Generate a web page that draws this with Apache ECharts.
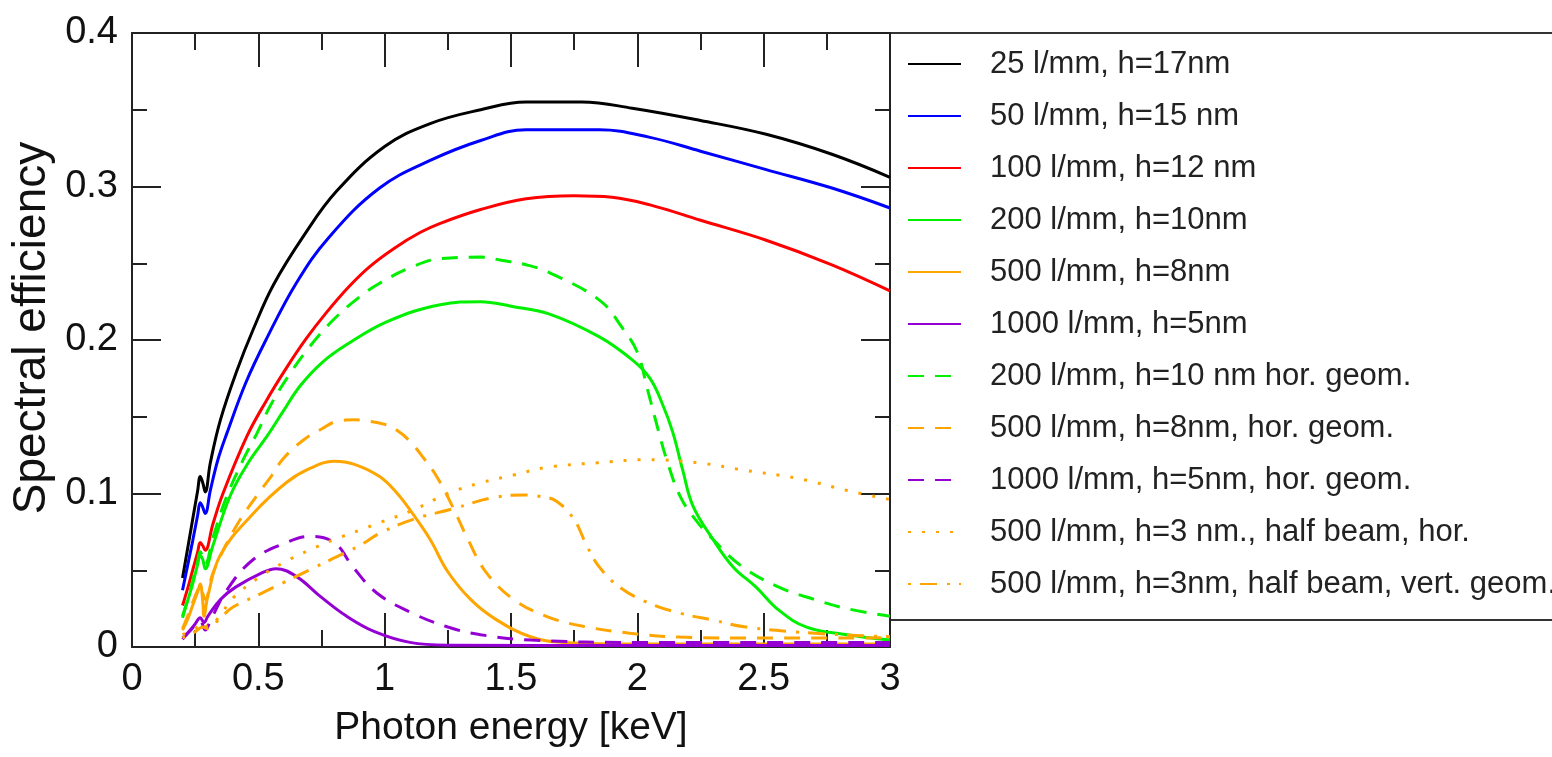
<!DOCTYPE html>
<html>
<head>
<meta charset="utf-8">
<script src="https://cdn.jsdelivr.net/npm/echarts@6/dist/echarts.min.js"></script>
<style>
html,body{margin:0;padding:0;background:#fff;}
#chart{width:1552px;height:757px;}
</style>
</head>
<body>
<div id="chart"></div>
<script>
// ---- data (energy keV, efficiency) ----
const xTicks = [0, 0.5, 1, 1.5, 2, 2.5, 3];
const yTicks = [0, 0.1, 0.2, 0.3, 0.4];

const names = [
  '25 l/mm, h=17nm',
  '50 l/mm, h=15 nm',
  '100 l/mm, h=12 nm',
  '200 l/mm, h=10nm',
  '500 l/mm, h=8nm',
  '1000 l/mm, h=5nm',
  '200 l/mm, h=10 nm hor. geom.',
  '500 l/mm, h=8nm, hor. geom.',
  '1000 l/mm, h=5nm, hor. geom.',
  '500 l/mm, h=3 nm., half beam, hor.',
  '500 l/mm, h=3nm, half beam, vert. geom.'
];

const g25 = [[0.2,0.045],[0.22,0.064],[0.24,0.083],[0.26,0.102],[0.27,0.111],[0.28,0.107],[0.29,0.101],[0.31,0.120],[0.35,0.148],[0.415,0.180],[0.48,0.207],[0.56,0.236],[0.68,0.268],[0.81,0.297],[1.0,0.326],[1.18,0.341],[1.38,0.350],[1.56,0.355],[1.78,0.355],[1.98,0.351],[2.25,0.343],[2.51,0.334],[2.77,0.321],[3.0,0.306]];
const g50 = [[0.2,0.037],[0.22,0.053],[0.24,0.069],[0.26,0.086],[0.27,0.094],[0.28,0.091],[0.29,0.087],[0.31,0.102],[0.34,0.122],[0.375,0.139],[0.45,0.172],[0.53,0.200],[0.65,0.237],[0.78,0.267],[0.98,0.299],[1.18,0.317],[1.38,0.330],[1.56,0.337],[1.85,0.337],[2.05,0.332],[2.25,0.323],[2.51,0.311],[2.77,0.299],[3.0,0.286]];
const g100 = [[0.2,0.027],[0.22,0.038],[0.24,0.050],[0.26,0.062],[0.27,0.068],[0.28,0.066],[0.29,0.063],[0.32,0.080],[0.36,0.100],[0.454,0.137],[0.53,0.160],[0.612,0.182],[0.69,0.201],[0.77,0.218],[0.86,0.235],[0.942,0.248],[1.04,0.260],[1.14,0.270],[1.22,0.276],[1.38,0.285],[1.56,0.292],[1.75,0.294],[1.9,0.293],[2.05,0.288],[2.25,0.278],[2.51,0.265],[2.77,0.249],[3.0,0.232]];
const g200 = [[0.2,0.019],[0.22,0.030],[0.24,0.041],[0.26,0.054],[0.27,0.060],[0.28,0.057],[0.29,0.051],[0.32,0.066],[0.39,0.099],[0.46,0.120],[0.533,0.137],[0.6,0.154],[0.665,0.170],[0.75,0.185],[0.85,0.197],[1.01,0.212],[1.22,0.223],[1.38,0.225],[1.5,0.222],[1.65,0.217],[1.85,0.202],[1.98,0.187],[2.05,0.175],[2.1,0.158],[2.14,0.140],[2.18,0.115],[2.22,0.092],[2.3,0.070],[2.38,0.052],[2.47,0.039],[2.56,0.024],[2.67,0.013],[2.83,0.008],[3.0,0.0045]];
const g500 = [[0.2,0.011],[0.22,0.018],[0.24,0.027],[0.26,0.036],[0.27,0.041],[0.28,0.030],[0.285,0.020],[0.3,0.033],[0.35,0.060],[0.48,0.087],[0.61,0.107],[0.7,0.116],[0.8,0.121],[0.88,0.119],[0.98,0.111],[1.05,0.100],[1.11,0.087],[1.18,0.070],[1.25,0.049],[1.34,0.031],[1.44,0.018],[1.58,0.0065],[1.71,0.003],[2.0,0.002],[3.0,0.002]];
const g1000 = [[0.2,0.005],[0.22,0.009],[0.25,0.015],[0.27,0.019],[0.285,0.016],[0.3,0.020],[0.35,0.031],[0.41,0.039],[0.51,0.048],[0.57,0.051],[0.65,0.046],[0.745,0.033],[0.85,0.020],[0.96,0.010],[1.1,0.003],[1.25,0.0012],[2.0,0.001],[3.0,0.001]];
const h200 = [[0.2,0.020],[0.22,0.031],[0.24,0.043],[0.26,0.056],[0.27,0.062],[0.28,0.059],[0.29,0.054],[0.32,0.071],[0.37,0.096],[0.44,0.122],[0.494,0.139],[0.55,0.158],[0.625,0.178],[0.7,0.195],[0.796,0.213],[0.9,0.228],[0.98,0.237],[1.1,0.247],[1.22,0.253],[1.38,0.254],[1.46,0.252],[1.56,0.249],[1.65,0.244],[1.85,0.226],[1.94,0.208],[2.0,0.192],[2.04,0.168],[2.08,0.143],[2.12,0.120],[2.17,0.098],[2.23,0.083],[2.3,0.070],[2.41,0.053],[2.56,0.039],[2.7,0.031],[2.83,0.025],[3.0,0.020]];
const h500 = [[0.2,0.012],[0.22,0.020],[0.24,0.029],[0.26,0.037],[0.27,0.040],[0.28,0.035],[0.29,0.031],[0.32,0.048],[0.41,0.078],[0.5,0.100],[0.55,0.111],[0.6,0.123],[0.68,0.135],[0.75,0.142],[0.81,0.147],[0.88,0.148],[0.94,0.147],[1.0,0.145],[1.05,0.141],[1.1,0.134],[1.15,0.124],[1.21,0.110],[1.27,0.091],[1.33,0.070],[1.4,0.049],[1.51,0.031],[1.64,0.020],[1.77,0.014],[1.97,0.009],[2.17,0.0065],[2.5,0.0058],[3.0,0.006]];
const h1000 = [[0.2,0.006],[0.22,0.009],[0.25,0.014],[0.27,0.017],[0.29,0.011],[0.31,0.017],[0.375,0.037],[0.48,0.057],[0.61,0.068],[0.7,0.072],[0.8,0.068],[0.875,0.052],[0.97,0.035],[1.11,0.022],[1.25,0.013],[1.38,0.008],[1.58,0.0045],[2.0,0.003],[3.0,0.003]];
const halfHor = [[0.2,0.008],[0.25,0.012],[0.28,0.016],[0.3,0.013],[0.35,0.021],[0.4,0.032],[0.5,0.045],[0.6,0.055],[0.7,0.063],[0.8,0.070],[0.9,0.076],[0.98,0.081],[1.11,0.089],[1.25,0.100],[1.38,0.107],[1.51,0.112],[1.64,0.117],[1.84,0.120],[2.04,0.122],[2.24,0.120],[2.43,0.115],[2.63,0.110],[2.83,0.102],[3.0,0.096]];
const halfVert = [[0.2,0.006],[0.25,0.010],[0.28,0.013],[0.3,0.012],[0.35,0.019],[0.4,0.026],[0.5,0.034],[0.6,0.042],[0.7,0.050],[0.8,0.058],[0.9,0.066],[0.98,0.074],[1.11,0.083],[1.27,0.090],[1.42,0.097],[1.55,0.099],[1.62,0.098],[1.68,0.095],[1.75,0.083],[1.8,0.066],[1.85,0.052],[1.93,0.039],[2.04,0.029],[2.17,0.022],[2.3,0.0175],[2.43,0.013],[2.63,0.0098],[2.83,0.0078],[3.0,0.0067]];

const seriesData = [g25, g50, g100, g200, g500, g1000, h200, h500, h1000, halfHor, halfVert];
const colors = ['#000000','#0000ff','#ff0000','#00f000','#ffa500','#9400d3','#00f000','#ffa500','#9400d3','#ffa500','#ffa500'];
const dashTypes = ['solid','solid','solid','solid','solid','solid',[16,11],[16,11],[16,11],[3,11],[3,9,17,10]];

const FONT = '"Liberation Sans", Arial, Helvetica, sans-serif';
const AX = '#222';

const series = seriesData.map((d, i) => ({
  name: names[i],
  type: 'line',
  data: d,
  showSymbol: false,
  symbol: 'none',
  smooth: 0.4,
  lineStyle: { color: colors[i], width: 3, type: dashTypes[i] },
  itemStyle: { color: colors[i] },
  z: 2
}));

function xAx(pos, labels) {
  return {
    type: 'value', position: pos, min: 0, max: 3, interval: 0.5,
    axisLine: { show: true, onZero: false, lineStyle: { color: AX, width: 2 } },
    axisTick: { show: true, inside: true, length: 34, lineStyle: { color: AX, width: 2 } },
    minorTick: { show: true, splitNumber: 2, length: 17, lineStyle: { color: AX, width: 2 } },
    splitLine: { show: false },
    axisLabel: { show: labels, margin: 14, fontSize: 38, color: '#111', fontFamily: FONT },
    name: labels ? 'Photon energy [keV]' : '',
    nameLocation: 'middle', nameGap: 62,
    nameTextStyle: { fontSize: 39, color: '#111', fontFamily: FONT }
  };
}
function yAx(pos, labels) {
  return {
    type: 'value', position: pos, min: 0, max: 0.4, interval: 0.1,
    axisLine: { show: true, onZero: false, lineStyle: { color: AX, width: 2 } },
    axisTick: { show: true, inside: true, length: 29, lineStyle: { color: AX, width: 2 } },
    minorTick: { show: true, splitNumber: 2, length: 15, lineStyle: { color: AX, width: 2 } },
    splitLine: { show: false },
    axisLabel: { show: labels, margin: 14, fontSize: 38, color: '#111', fontFamily: FONT },
    name: labels ? 'Spectral efficiency' : '',
    nameLocation: 'middle', nameGap: 77, nameRotate: 90,
    nameTextStyle: { fontSize: 46, color: '#111', fontFamily: FONT, padding: [0, 0, 0, 24] }
  };
}

const chart = echarts.init(document.getElementById('chart'), null, { renderer: 'canvas' });
chart.setOption({
  backgroundColor: '#fff',
  animation: false,
  grid: { left: 132, right: 662, top: 33, bottom: 110, containLabel: false },
  xAxis: [xAx('bottom', true), xAx('top', false)],
  yAxis: [yAx('left', true), yAx('right', false)],
  graphic: [{
    type: 'rect', z: 0,
    shape: { x: 890, y: 33, width: 720, height: 587 },
    style: { fill: '#fff', stroke: '#333', lineWidth: 2 }
  }],
  legend: {
    orient: 'vertical', left: 890, top: 33,
    padding: [13, 10, 10, 17],
    itemWidth: 53, itemHeight: 14, itemGap: 16,
    data: names,
    selectedMode: false,
    itemStyle: { color: 'transparent', borderColor: 'transparent', borderWidth: 0 },
    textStyle: { fontSize: 31, lineHeight: 36, color: '#222', fontFamily: FONT, padding: [0, 0, 0, 24] },
    z: 5
  },
  series: series
});
</script>
</body>
</html>
